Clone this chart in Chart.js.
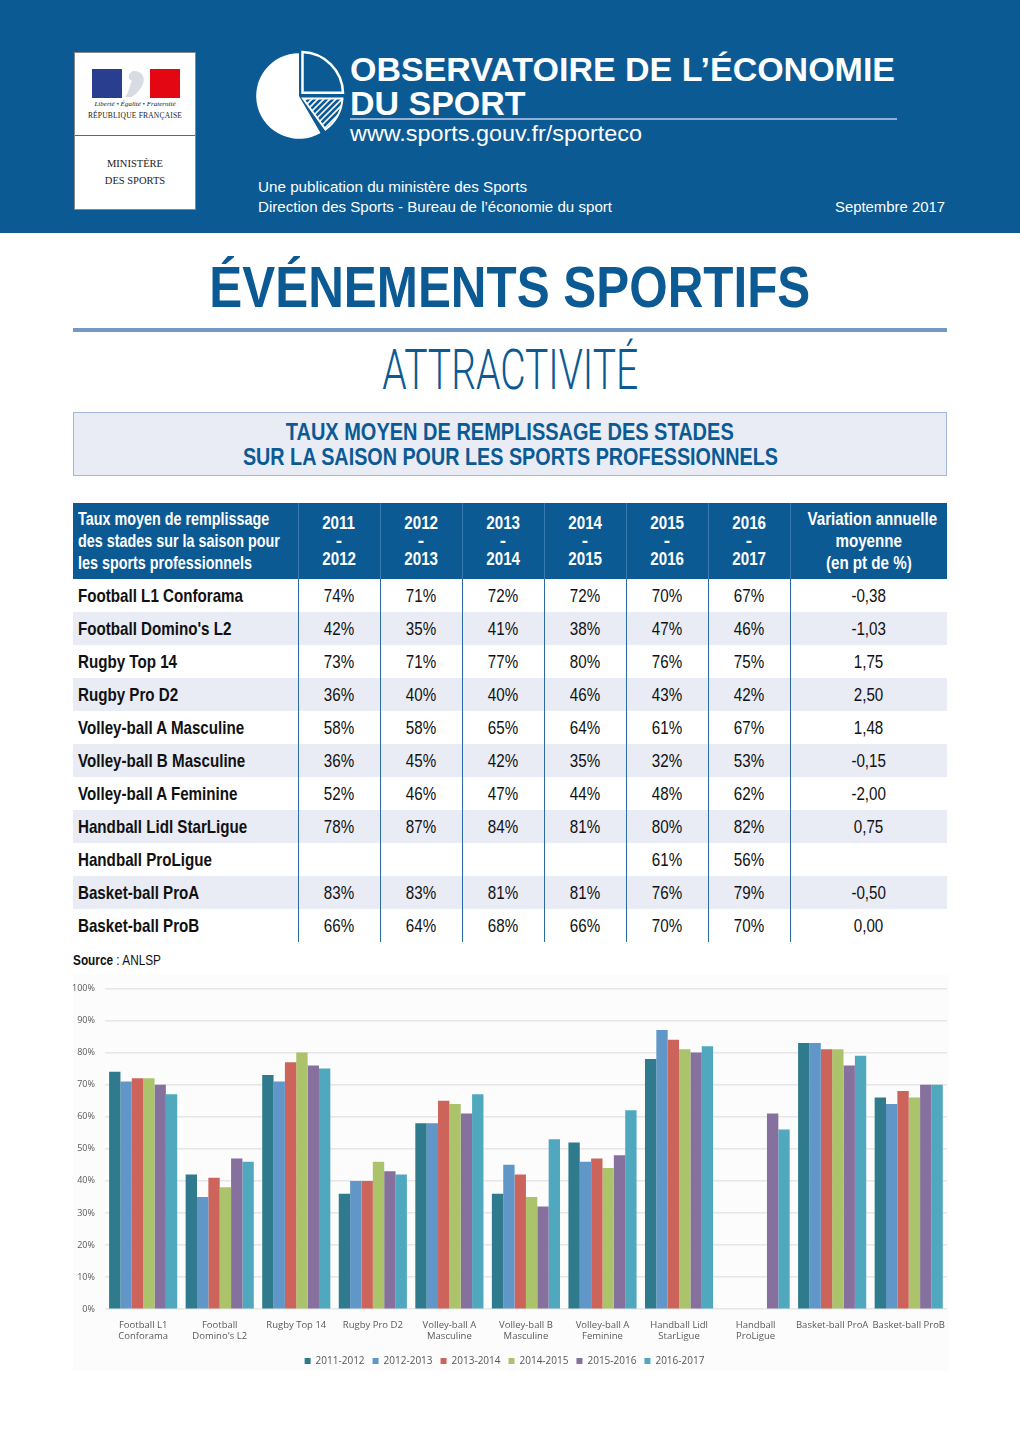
<!DOCTYPE html>
<html lang="fr">
<head>
<meta charset="utf-8">
<script src="https://cdn.jsdelivr.net/npm/chart.js@4"></script>
<style>
  html, body { margin: 0; padding: 0; background: #fff; }
  body { width: 1020px; height: 1442px; position: relative; overflow: hidden; font-family: "Liberation Sans", Arial, sans-serif; }
  .abs { position: absolute; }
  .fx { display: inline-block; white-space: nowrap; transform-origin: left center; }
  .ctr .fx { transform-origin: center center; }
  #header { left: 0; top: 0; width: 1020px; height: 233px; background: #0b5a94; }
  #logo { left: 74px; top: 52px; width: 122px; height: 158px; background: #fff; border: 1px solid #888; box-sizing: border-box; }
  #logo .sep { position: absolute; left: 0; top: 82px; width: 100%; height: 1px; background: #666; }
  .serif { font-family: "Liberation Serif", "DejaVu Serif", serif; color: #222; text-align: center; width: 100%; }
  .t-white { color: #fff; }
  #rule { left: 73px; top: 328px; width: 874px; height: 4px; background: #7498c2; }
  #subbox { left: 73px; top: 412px; width: 874px; height: 64px; background: #e9ecf5; border: 1px solid #a2b6d6; box-sizing: border-box; }
  table { border-collapse: collapse; position: absolute; left: 73px; top: 503px; width: 874px; table-layout: fixed; }
  th { background: #0b5a94; color: #fff; font-weight: bold; font-size: 19px; height: 76px; padding: 0; line-height: 18px; vertical-align: middle; border-left: 1px solid #3a7ab0; text-align: center; white-space: nowrap; }
  th:first-child { border-left: none; text-align: left; padding-left: 5px; line-height: 22px; font-size: 18px; }
  td { height: 33px; padding: 0; font-size: 19px; text-align: center; color: #111; border-left: 1px solid #2a6aa5; white-space: nowrap; }
  td:first-child { text-align: left; padding-left: 5px; font-weight: bold; border-left: none; }
  tr.alt td { background: #e9ebf5; }
  table .fx { transform-origin: center center; }
  table th:first-child .fx, table td:first-child .fx { transform-origin: left center; }
  #chartbg { left: 73px; top: 975px; width: 876px; height: 396px; background: #fcfcfc; }
  #chartbox { left: 62px; top: 973px; width: 887px; height: 413px; }
</style>
</head>
<body>
<div id="header" class="abs"></div>
<div id="logo" class="abs">
  <svg width="120" height="80" style="position:absolute;left:0;top:0">
    <rect x="17" y="16" width="30" height="29" fill="#2a3e8f"/>
    <rect x="47" y="16" width="28" height="29" fill="#fff"/>
    <rect x="75" y="16" width="30" height="29" fill="#e30613"/>
    <path d="M58 18 C 66 17, 71 24, 68 31 C 66 36, 62 40, 57 44 L 50 44 C 55 38, 54 33, 57 28 C 52 26, 53 20, 58 18 Z" fill="#d8dbe4"/>
  </svg>
  <div class="abs serif" style="top:47px;font-size:7px;font-style:italic;">Liberté • Égalité • Fraternité</div>
  <div class="abs serif" style="top:58px;font-size:7.5px;letter-spacing:0.2px;">RÉPUBLIQUE FRANÇAISE</div>
  <div class="sep"></div>
  <div class="abs serif" style="top:105px;font-size:10.5px;">MINISTÈRE</div>
  <div class="abs serif" style="top:122px;font-size:10.5px;">DES SPORTS</div>
</div>
<svg class="abs" style="left:250px;top:48px" width="100" height="100">
  <g transform="translate(49,48)">
    <path d="M0 0 L 21.5 37.0 A 42.8 42.8 0 1 1 0 -42.8 Z" fill="#fff"/>
    <path d="M3.5 -3.2 L 3.5 -44 A 42 42 0 0 1 44 -3.2 Z" fill="none" stroke="#fff" stroke-width="2.5"/>
    <clipPath id="hc"><path d="M4 2.5 L 43.5 2.5 A 42 42 0 0 1 26.5 33.5 Z"/></clipPath>
    <path d="M4 2.5 L 43.5 2.5 A 42 42 0 0 1 26.5 33.5 Z" fill="none" stroke="#fff" stroke-width="2"/>
    <g clip-path="url(#hc)" stroke="#fff" stroke-width="1.6">
      <line x1="0" y1="10" x2="10" y2="0"/><line x1="0" y1="16" x2="16" y2="0"/><line x1="0" y1="22" x2="22" y2="0"/>
      <line x1="4" y1="24" x2="28" y2="0"/><line x1="8" y1="26" x2="34" y2="0"/><line x1="12" y1="28" x2="40" y2="0"/>
      <line x1="16" y1="30" x2="46" y2="0"/><line x1="20" y1="32" x2="52" y2="0"/><line x1="24" y1="34" x2="58" y2="0"/>
      <line x1="28" y1="36" x2="64" y2="0"/>
    </g>
  </g>
</svg>
<div class="abs t-white" style="left:350px;top:52px;font-weight:bold;font-size:34px;line-height:34px;">
  <span class="fx" data-w="545" id="obs1">OBSERVATOIRE DE L’ÉCONOMIE</span><br><span class="fx" data-same="obs1">DU SPORT</span>
</div>
<div class="abs" style="left:350px;top:118px;width:547px;height:2px;background:#8fb0d4;"></div>
<div class="abs t-white" style="left:350px;top:121px;font-size:22px;"><span class="fx" data-w="292">www.sports.gouv.fr/sporteco</span></div>
<div class="abs t-white" style="left:258px;top:177px;font-size:15px;line-height:20px;">
  <span class="fx" data-w="269">Une publication du ministère des Sports</span><br><span class="fx" data-w="354">Direction des Sports - Bureau de l’économie du sport</span>
</div>
<div class="abs t-white" style="left:835px;top:197px;font-size:15px;line-height:20px;"><span class="fx" data-w="110">Septembre 2017</span></div>

<div class="abs ctr" style="left:0;width:1020px;top:256px;text-align:center;color:#0b5a94;font-weight:bold;font-size:57px;line-height:62px;">
  <span class="fx" data-w="601">ÉVÉNEMENTS SPORTIFS</span>
</div>
<div id="rule" class="abs"></div>
<div class="abs ctr" style="left:0;width:1020px;top:340px;text-align:center;color:#0b5a94;font-family:Roboto,sans-serif;font-size:55px;line-height:60px;font-weight:300;">
  <span class="fx" data-w="256">ATTRACTIVITÉ</span>
</div>
<div id="subbox" class="abs ctr">
  <div style="text-align:center;color:#0b5a94;font-weight:bold;font-size:23px;line-height:25px;padding-top:7px;">
    <span class="fx" data-w="448">TAUX MOYEN DE REMPLISSAGE DES STADES</span><br><span class="fx" data-w="535">SUR LA SAISON POUR LES SPORTS PROFESSIONNELS</span>
  </div>
</div>

<table id="tbl">
  <colgroup><col style="width:225px"><col style="width:82px"><col style="width:82px"><col style="width:82px"><col style="width:82px"><col style="width:82px"><col style="width:82px"><col style="width:157px"></colgroup>
  <thead><tr id="hdr"></tr></thead>
  <tbody id="body"></tbody>
</table>
<div class="abs" style="left:73px;top:951px;font-size:15px;color:#111;"><span class="fx" data-w="88"><b>Source</b> : ANLSP</span></div>

<div id="chartbg" class="abs"></div>
<div id="chartbox" class="abs"><canvas id="chart"></canvas></div>

<script>
// Données du tableau et du graphique
const sports = ["Football L1 Conforama", "Football Domino's L2", "Rugby Top 14", "Rugby Pro D2", "Volley-ball A Masculine", "Volley-ball B Masculine", "Volley-ball A Feminine", "Handball Lidl StarLigue", "Handball ProLigue", "Basket-ball ProA", "Basket-ball ProB"]
const chartLabels = [["Football L1", "Conforama"], ["Football", "Domino's L2"], "Rugby Top 14", "Rugby Pro D2", ["Volley-ball A", "Masculine"], ["Volley-ball B", "Masculine"], ["Volley-ball A", "Feminine"], ["Handball Lidl", "StarLigue"], ["Handball", "ProLigue"], "Basket-ball ProA", "Basket-ball ProB"]
const seasons = ["2011-2012", "2012-2013", "2013-2014", "2014-2015", "2015-2016", "2016-2017"]
const s2011 = [74, 42, 73, 36, 58, 36, 52, 78, null, 83, 66]
const s2012 = [71, 35, 71, 40, 58, 45, 46, 87, null, 83, 64]
const s2013 = [72, 41, 77, 40, 65, 42, 47, 84, null, 81, 68]
const s2014 = [72, 38, 80, 46, 64, 35, 44, 81, null, 81, 66]
const s2015 = [70, 47, 76, 43, 61, 32, 48, 80, 61, 76, 70]
const s2016 = [67, 46, 75, 42, 67, 53, 62, 82, 56, 79, 70]
const variation = ["-0,38", "-1,03", "1,75", "2,50", "1,48", "-0,15", "-2,00", "0,75", "", "-0,50", "0,00"]
const yTicks = [0, 10, 20, 30, 40, 50, 60, 70, 80, 90, 100]

const series = [s2011, s2012, s2013, s2014, s2015, s2016]
const colors = ["#2f7b8d", "#6196c9", "#cd645c", "#abc46c", "#86709e", "#4fa8bd"]

const fx = (t) => `<span class="fx">${t}</span>`

// Tableau
const hdr = document.getElementById("hdr")
hdr.innerHTML = "<th>" + fx("Taux moyen de remplissage") + "<br>" + fx("des stades sur la saison pour") + "<br>" + fx("les sports professionnels") + "</th>" +
  seasons.map((s) => { const p = s.split("-"); return `<th>${fx(p[0])}<br>-<br>${fx(p[1])}</th>` }).join("") +
  "<th style='line-height:22px'>" + fx("Variation annuelle") + "<br>" + fx("moyenne") + "<br>" + fx("(en pt de %)") + "</th>"

const tbody = document.getElementById("body")
sports.forEach((name, i) => {
  const tr = document.createElement("tr")
  if (i % 2 === 1) tr.className = "alt"
  const cells = series.map((s) => `<td>${s[i] === null ? "" : fx(s[i] + "%")}</td>`).join("")
  tr.innerHTML = `<td>${fx(name)}</td>${cells}<td>${fx(variation[i])}</td>`
  tbody.appendChild(tr)
})

// Ajustement des largeurs de texte (polices condensées simulées)
const scales = {}
document.querySelectorAll(".fx[data-w]").forEach((el) => {
  const k = Number(el.dataset.w) / el.getBoundingClientRect().width
  el.style.transform = `scaleX(${k})`
  if (el.id) scales[el.id] = k
})
document.querySelectorAll(".fx[data-same]").forEach((el) => {
  el.style.transform = `scaleX(${scales[el.dataset.same]})`
})
const firstName = tbody.querySelector("td .fx")
const tk = 165 / firstName.getBoundingClientRect().width
document.querySelectorAll("table .fx").forEach((el) => { el.style.transform = `scaleX(${tk})` })

// Graphique
const ctx = document.getElementById("chart")
new Chart(ctx, {
  type: "bar",
  data: {
    labels: chartLabels,
    datasets: seasons.map((s, k) => ({
      label: s,
      data: series[k],
      backgroundColor: colors[k],
      borderWidth: 0,
      categoryPercentage: 0.89,
      barPercentage: 1.0,
    })),
  },
  options: {
    responsive: true,
    maintainAspectRatio: false,
    animation: false,
    layout: { padding: { left: 0, right: 2, top: 6, bottom: 10 } },
    plugins: {
      legend: {
        position: "bottom",
        labels: { boxWidth: 6, boxHeight: 6, padding: 8, color: "#555", font: { size: 10, family: "'Open Sans', sans-serif" } },
      },
      tooltip: { enabled: false },
    },
    scales: {
      x: {
        grid: { display: false },
        border: { display: false },
        afterFit: (axis) => { axis.height += 4 },
        ticks: { color: "#595959", padding: 2, font: { size: 9.5, family: "'Open Sans', sans-serif" }, maxRotation: 0, autoSkip: false },
      },
      y: {
        min: 0,
        max: 100,
        afterBuildTicks: (axis) => { axis.ticks = yTicks.map((v) => ({ value: v })) },
        grid: { color: "#e6e6e6", lineWidth: 1.5, drawTicks: false },
        border: { display: false },
        ticks: { color: "#595959", padding: 10, font: { size: 9, family: "'Open Sans', sans-serif" }, callback: (v) => v + "%" },
      },
    },
  },
})
</script>
</body>
</html>
